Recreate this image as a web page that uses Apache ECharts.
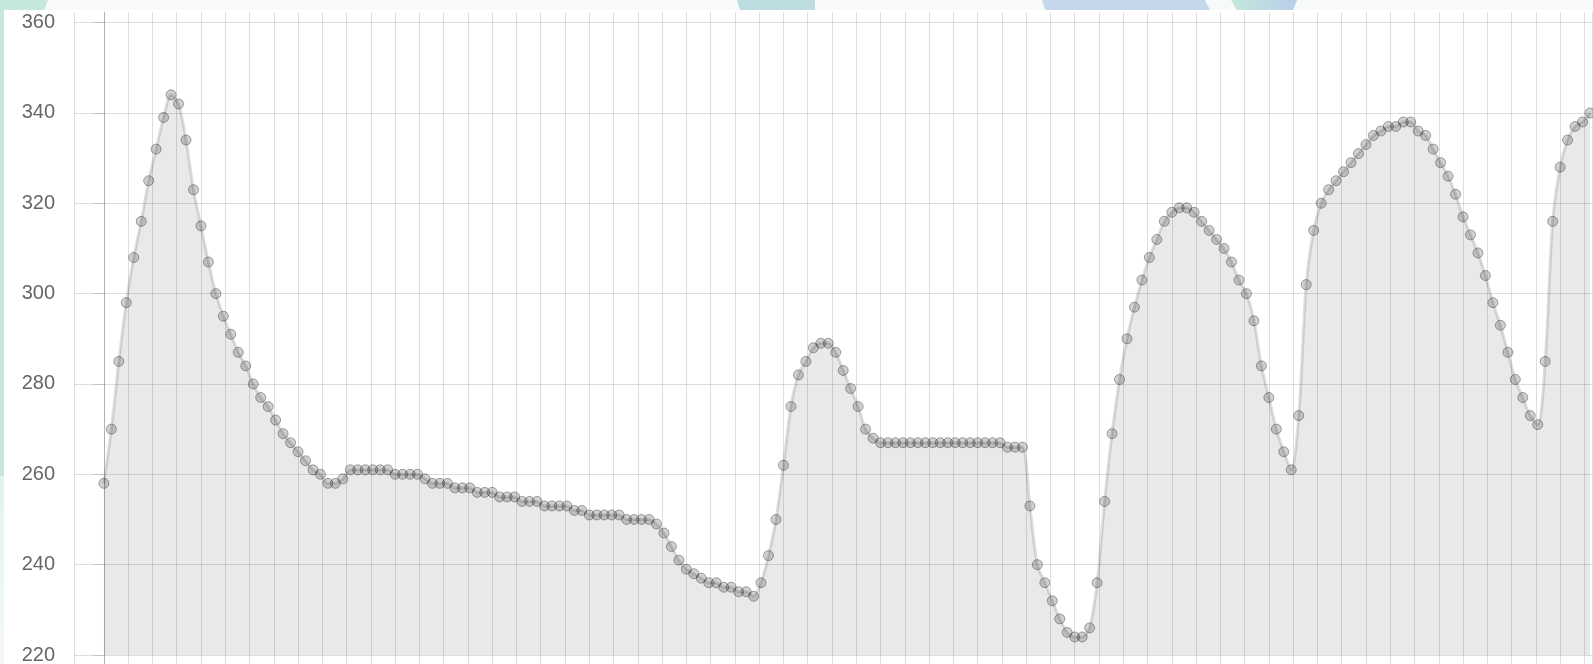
<!DOCTYPE html>
<html>
<head>
<meta charset="utf-8">
<script src="https://cdn.jsdelivr.net/npm/echarts@6/dist/echarts.min.js"></script>
<style>
  html, body { margin: 0; padding: 0; width: 1593px; height: 664px; overflow: hidden; background: #f8fafa; position: relative; }
  .deco { position: absolute; top: 0; height: 10px; }
  #chart { position: absolute; left: 4px; top: 10px; width: 1589px; height: 654px; background: #ffffff; }
</style>
</head>
<body>
<div class="deco" style="left:0;width:48px;background:#c4e8dc;clip-path:polygon(0 0,100% 0,92% 100%,0 100%);"></div>
<div class="deco" style="left:0;top:0;width:4px;height:476px;background:#c6e7dc;"></div>
<div class="deco" style="left:0;top:476px;width:4px;height:188px;background:linear-gradient(#e3f2ee,#f3f9f8);"></div>
<div class="deco" style="left:737px;width:78px;background:#bcdcdf;clip-path:polygon(0 0,100% 0,100% 100%,4% 100%);"></div>
<div class="deco" style="left:1042px;width:168px;background:#c5d8eb;clip-path:polygon(0 0,97% 0,100% 100%,2% 100%);"></div>
<div class="deco" style="left:1231px;width:66px;background:linear-gradient(90deg,#c2e7da,#b9cfea);clip-path:polygon(0 0,100% 0,94% 100%,9% 100%);"></div>
<div id="chart"></div>
<script>
// ---- data ----
const yTicks = [220, 240, 260, 280, 300, 320, 340, 360];
const values = [
  258, 270, 285, 298, 308, 316, 325, 332, 339, 344,
  342, 334, 323, 315, 307, 300, 295, 291, 287, 284,
  280, 277, 275, 272, 269, 267, 265, 263, 261, 260,
  258, 258, 259, 261, 261, 261, 261, 261, 261, 260,
  260, 260, 260, 259, 258, 258, 258, 257, 257, 257,
  256, 256, 256, 255, 255, 255, 254, 254, 254, 253,
  253, 253, 253, 252, 252, 251, 251, 251, 251, 251,
  250, 250, 250, 250, 249, 247, 244, 241, 239, 238,
  237, 236, 236, 235, 235, 234, 234, 233, 236, 242,
  250, 262, 275, 282, 285, 288, 289, 289, 287, 283,
  279, 275, 270, 268, 267, 267, 267, 267, 267, 267,
  267, 267, 267, 267, 267, 267, 267, 267, 267, 267,
  267, 266, 266, 266, 253, 240, 236, 232, 228, 225,
  224, 224, 226, 236, 254, 269, 281, 290, 297, 303,
  308, 312, 316, 318, 319, 319, 318, 316, 314, 312,
  310, 307, 303, 300, 294, 284, 277, 270, 265, 261,
  273, 302, 314, 320, 323, 325, 327, 329, 331, 333,
  335, 336, 337, 337, 338, 338, 336, 335, 332, 329,
  326, 322, 317, 313, 309, 304, 298, 293, 287, 281,
  277, 273, 271, 285, 316, 328, 334, 337, 338, 340
];
const xMin = -4;
const xMax = 199.27;
const xGridStep = 3.25;

// ---- styles ----
const gridColor = 'rgba(0,0,0,0.13)';
const zeroColor = 'rgba(0,0,0,0.3)';
// vertical split lines: [min edge, -3.25 (hidden), 0 (zero line), 3.25, ...]
const splitColors = [];
for (let k = 0; k < 80; k++) splitColors.push(k === 1 ? 'rgba(0,0,0,0)' : (k === 2 ? zeroColor : gridColor));

const seriesData = values.map((v, i) => [i, v]);

const chart = echarts.init(document.getElementById('chart'), null, { renderer: 'canvas' });
chart.setOption({
  animation: false,
  grid: [
    // full-height grid: only carries the vertical grid lines
    { left: 70, right: 1, top: 2, bottom: 0, containLabel: false, outerBoundsMode: 'none' },
    // plotting grid: 220..360
    { left: 70, right: 1, top: 12.6, bottom: 9, containLabel: false, outerBoundsMode: 'none' }
  ],
  xAxis: [
    {
      gridIndex: 0, type: 'value', min: xMin, max: xMax,
      minInterval: xGridStep, maxInterval: xGridStep, splitNumber: 62,
      axisLine: { show: false }, axisLabel: { show: false }, axisTick: { show: false },
      splitLine: { show: true, lineStyle: { color: splitColors, width: 1 } }
    },
    {
      gridIndex: 1, type: 'value', min: xMin, max: xMax,
      axisLine: { show: false }, axisLabel: { show: false }, axisTick: { show: false },
      splitLine: { show: false }
    }
  ],
  yAxis: [
    { gridIndex: 0, type: 'value', min: 0, max: 1, show: false, splitLine: { show: false } },
    {
      gridIndex: 1,
      type: 'value',
      min: yTicks[0],
      max: yTicks[yTicks.length - 1],
      interval: yTicks[1] - yTicks[0],
      axisLine: { show: false },
      axisTick: { show: true, length: 11, lineStyle: { color: gridColor, width: 1 } },
      axisLabel: {
        margin: 19,
        color: '#666666',
        fontSize: 20,
        fontFamily: '"Liberation Sans", Arial, Helvetica, sans-serif'
      },
      splitLine: { show: true, lineStyle: { color: gridColor, width: 1 } }
    }
  ],
  series: [{
    type: 'line',
    xAxisIndex: 1,
    yAxisIndex: 1,
    data: seriesData,
    smooth: 0.3,
    symbol: 'circle',
    symbolSize: 10,
    showAllSymbol: true,
    lineStyle: { color: 'rgba(0,0,0,0.13)', width: 3 },
    areaStyle: { color: 'rgba(0,0,0,0.12)', origin: 'start' },
    itemStyle: { color: 'rgba(0,0,0,0.18)', borderColor: 'rgba(0,0,0,0.33)', borderWidth: 1 },
    emphasis: { disabled: true }
  }]
});
</script>
</body>
</html>
